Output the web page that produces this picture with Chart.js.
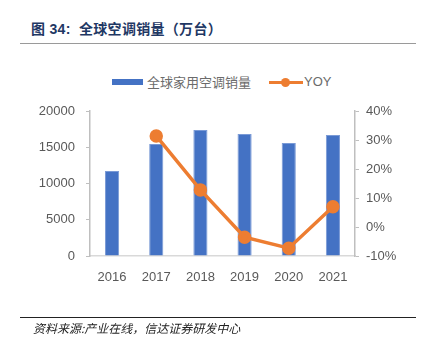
<!DOCTYPE html>
<html>
<head>
<meta charset="utf-8">
<script src="https://cdn.jsdelivr.net/npm/chart.js@4"></script>
<style>
  body { margin: 0; background: #fff; }
  #wrap { position: relative; width: 423px; height: 339px; font-family: "Liberation Sans", "Noto Sans CJK SC", sans-serif; }
  #title { position: absolute; left: 31px; top: 18px; font-size: 14px; font-weight: bold; color: #1f3864; font-family: "Liberation Sans", "Noto Sans CJK SC", sans-serif; white-space: nowrap; letter-spacing: 0.3px; }
  #titleLine { position: absolute; left: 20px; top: 43px; width: 396px; height: 0; border-top: 1.5px solid #9a9a9a; }
  #footLine { position: absolute; left: 20px; top: 317px; width: 396px; height: 0; border-top: 1px solid #222; }
  #source { position: absolute; left: 33px; top: 319px; font-size: 12px; font-style: italic; color: #222; font-family: "Noto Sans CJK SC", sans-serif; white-space: nowrap; }
  #legend { position: absolute; top: 72px; left: 112px; font-size: 13px; color: #6b6b6b; display: flex; align-items: center; white-space: nowrap; }
  .barKey { display: inline-block; width: 31px; height: 6px; background: #4472c4; margin-right: 4px; }
  .lineKey { position: relative; display: inline-block; width: 34px; height: 10px; margin-left: 18px; margin-right: 1px; }
  .lineKey::before { content: ""; position: absolute; left: 0; right: 0; top: 4px; height: 3px; background: #ed7d31; }
  .lineKey::after { content: ""; position: absolute; left: 12px; top: 1px; width: 9px; height: 9px; border-radius: 50%; background: #ed7d31; }
  canvas { position: absolute; left: 0; top: 0; }
</style>
</head>
<body>
<div id="wrap">
  <div id="title">图 34:&nbsp; 全球空调销量（万台）</div>
  <div id="titleLine"></div>
  <div id="legend"><span class="barKey"></span><span>全球家用空调销量</span><span class="lineKey"></span><span>YOY</span></div>
  <canvas id="myChart" width="423" height="339"></canvas>
  <div id="footLine"></div>
  <div id="source">资料来源:产业在线，信达证券研发中心</div>
</div>
<script>
// data
const years = ['2016', '2017', '2018', '2019', '2020', '2021'];
const sales = [11720, 15450, 17380, 16830, 15590, 16690];
const yoy = [null, 0.314, 0.128, -0.035, -0.073, 0.070];
const leftTicks = [0, 5000, 10000, 15000, 20000];
const rightTicks = [-0.1, 0, 0.1, 0.2, 0.3, 0.4];

const tickFont = { family: 'Liberation Sans', size: 13 };
const axisGray = '#bfbfbf';

const ctx = document.getElementById('myChart').getContext('2d');

const myChart = new Chart(ctx, {
  data: {
    labels: years,
    datasets: [
      {
        type: 'line',
        label: 'YOY',
        data: yoy,
        yAxisID: 'y1',
        borderColor: '#ed7d31',
        backgroundColor: '#ed7d31',
        borderWidth: 3.5,
        pointRadius: 5,
        pointHoverRadius: 5,
        tension: 0,
        order: 0
      },
      {
        type: 'bar',
        label: '全球家用空调销量',
        data: sales,
        yAxisID: 'y',
        backgroundColor: '#4472c4',
        borderColor: '#7a9ad6',
        borderWidth: 1,
        barPercentage: 0.32,
        categoryPercentage: 1,
        order: 1
      }
    ]
  },
  options: {
    responsive: false,
    animation: false,
    layout: { padding: { top: 111, bottom: 53, left: 0, right: 0 } },
    plugins: { legend: { display: false }, tooltip: { enabled: false } },
    scales: {
      x: {
        grid: { display: false },
        border: { color: '#d9d9d9', width: 1.5 },
        ticks: { color: '#595959', font: tickFont, padding: 6 },
        afterFit: (s) => { s.height = 30; }
      },
      y: {
        position: 'left',
        min: 0,
        max: 20000,
        afterBuildTicks: (s) => { s.ticks = leftTicks.map(v => ({ value: v })); },
        grid: { drawOnChartArea: false, color: axisGray, tickLength: 4 },
        border: { color: axisGray, width: 1.5 },
        ticks: { color: '#595959', font: tickFont, padding: 11, callback: (v) => String(v) },
        afterFit: (s) => { s.width = 90; }
      },
      y1: {
        position: 'right',
        min: -0.1,
        max: 0.4,
        afterBuildTicks: (s) => { s.ticks = rightTicks.map(v => ({ value: v })); },
        grid: { drawOnChartArea: false, color: axisGray, tickLength: 4 },
        border: { color: axisGray, width: 1.5 },
        ticks: {
          color: '#595959',
          font: tickFont,
          padding: 7,
          callback: (v) => Math.round(v * 100) + '%'
        },
        afterFit: (s) => { s.width = 68; }
      }
    }
  }
});
</script>
</body>
</html>
